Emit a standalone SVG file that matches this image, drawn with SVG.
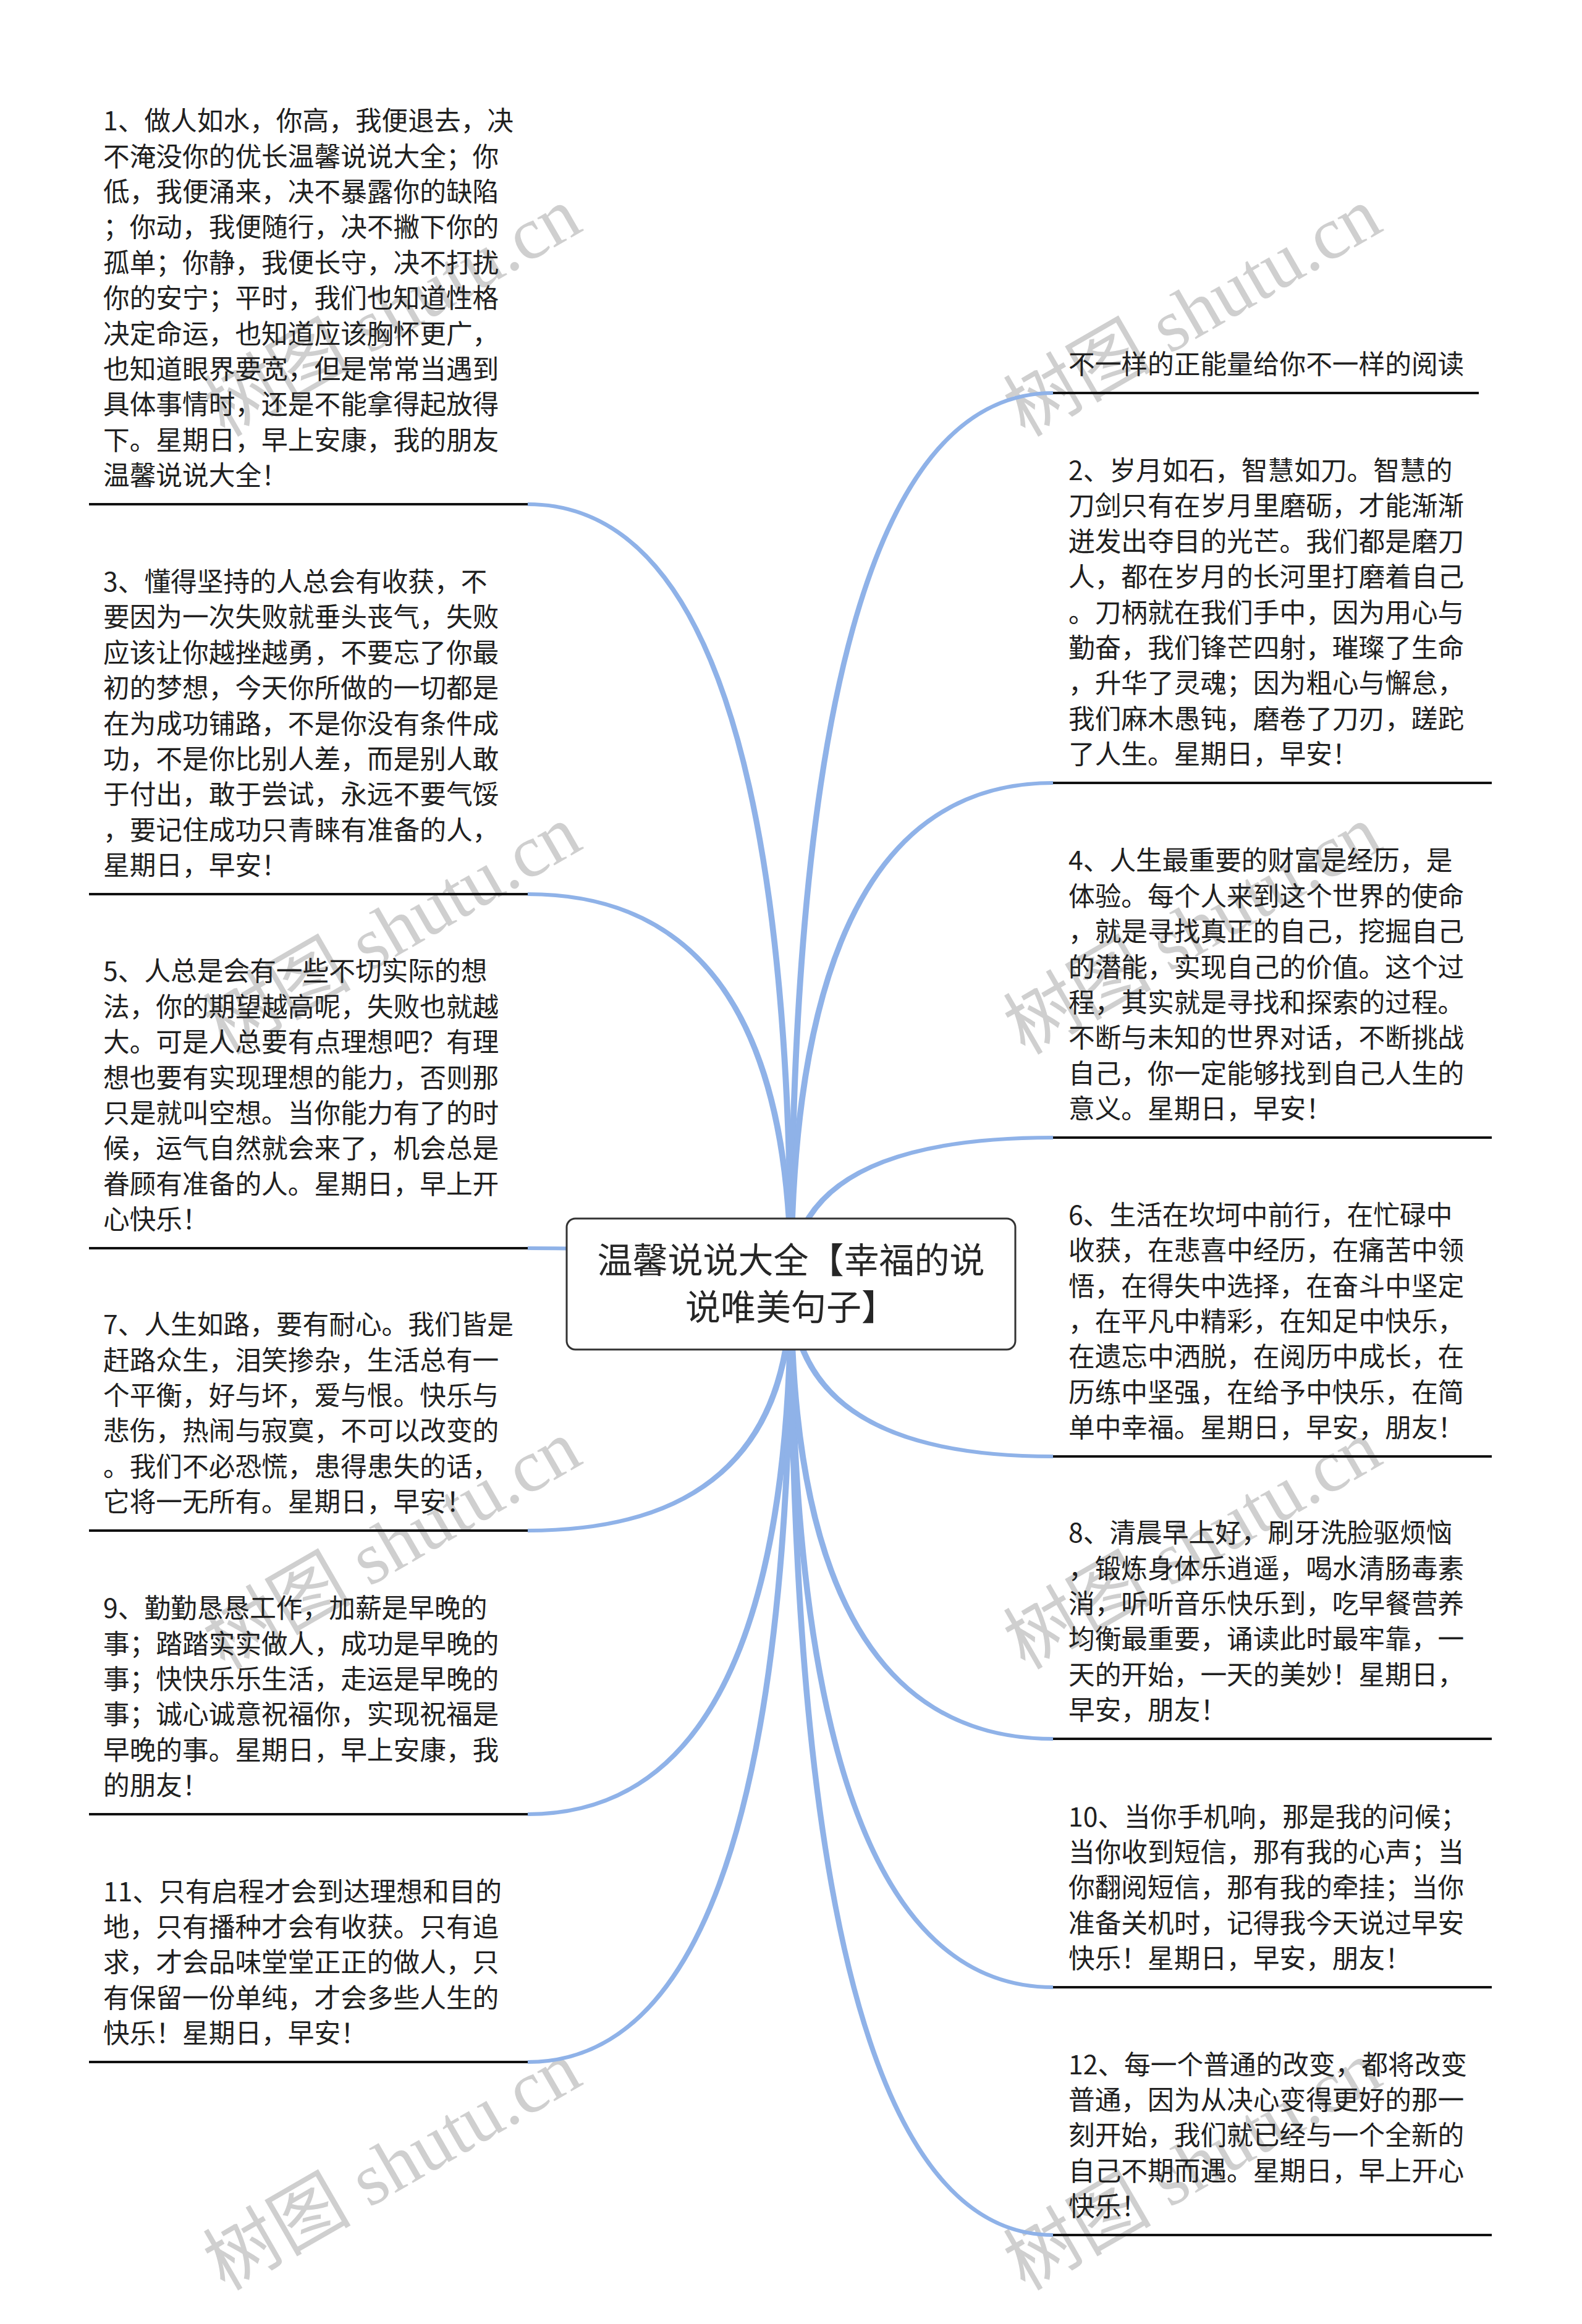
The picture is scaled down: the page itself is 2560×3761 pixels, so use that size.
<svg xmlns="http://www.w3.org/2000/svg" width="2560" height="3761" viewBox="0 0 2560 3761">
<style>
.bg{fill:#ffffff}
.wm{font-family:"Liberation Serif","Noto Sans CJK SC",serif;font-size:120px;fill:#cfcfcf}
.t{font-family:"Noto Sans CJK SC","Noto Sans",sans-serif;font-size:42.7px;fill:#202020}
.ul{stroke:#111111;stroke-width:4;fill:none}
.cn{fill:#8fb2e8;stroke:none}
.box{fill:#ffffff;stroke:#333333;stroke-width:3}
.ct{font-family:"Noto Sans CJK SC","Noto Sans",sans-serif;font-size:57px;fill:#262626;text-anchor:middle}
</style>
<rect class="bg" x="0" y="0" width="2560" height="3761"/>
<g id="watermarks">
<text class="wm" text-anchor="middle" transform="translate(655,540) rotate(-30)">树图 shutu.cn</text>
<text class="wm" text-anchor="middle" transform="translate(1950,540) rotate(-30)">树图 shutu.cn</text>
<text class="wm" text-anchor="middle" transform="translate(655,1540) rotate(-30)">树图 shutu.cn</text>
<text class="wm" text-anchor="middle" transform="translate(1950,1540) rotate(-30)">树图 shutu.cn</text>
<text class="wm" text-anchor="middle" transform="translate(655,2535) rotate(-30)">树图 shutu.cn</text>
<text class="wm" text-anchor="middle" transform="translate(1950,2535) rotate(-30)">树图 shutu.cn</text>
<text class="wm" text-anchor="middle" transform="translate(655,3540) rotate(-30)">树图 shutu.cn</text>
<text class="wm" text-anchor="middle" transform="translate(1950,3540) rotate(-30)">树图 shutu.cn</text>
</g>
<g id="connectors">
<path class="cn" d="M1285 2078 Q1285 813 854 813 L854 819 Q1275 819 1275 2078Z"/>
<path class="cn" d="M1285 2078 Q1285 1444 854 1444 L854 1450 Q1275 1450 1275 2078Z"/>
<path class="cn" d="M1285 2078 Q1285 2017 854 2017 L854 2023 Q1275 2023 1275 2078Z"/>
<path class="cn" d="M1285 2078 Q1285 2480 854 2480 L854 2474 Q1275 2474 1275 2078Z"/>
<path class="cn" d="M1285 2078 Q1285 2939 854 2939 L854 2933 Q1275 2933 1275 2078Z"/>
<path class="cn" d="M1285 2078 Q1285 3340 854 3340 L854 3334 Q1275 3334 1275 2078Z"/>
<path class="cn" d="M1275 2078 Q1275 633 1704 633 L1704 639 Q1285 639 1285 2078Z"/>
<path class="cn" d="M1275 2078 Q1275 1264 1704 1264 L1704 1270 Q1285 1270 1285 2078Z"/>
<path class="cn" d="M1275 2078 Q1275 1838 1704 1838 L1704 1844 Q1285 1844 1285 2078Z"/>
<path class="cn" d="M1275 2078 Q1275 2360 1704 2360 L1704 2354 Q1285 2354 1285 2078Z"/>
<path class="cn" d="M1275 2078 Q1275 2817 1704 2817 L1704 2811 Q1285 2811 1285 2078Z"/>
<path class="cn" d="M1275 2078 Q1275 3219 1704 3219 L1704 3213 Q1285 3213 1285 2078Z"/>
<path class="cn" d="M1275 2078 Q1275 3620 1704 3620 L1704 3614 Q1285 3614 1285 2078Z"/>
</g>
<g id="root">
<rect class="box" x="917" y="1972" width="726" height="212" rx="14"/>
<text class="ct"><tspan x="1280" y="2060">温馨说说大全【幸福的说</tspan><tspan x="1280" y="2136">说唯美句子】</tspan></text>
</g>
<g id="node1">
<text class="t"><tspan x="167" y="211.2">1、做人如水，你高，我便退去，决</tspan><tspan x="167" dy="57.4">不淹没你的优长温馨说说大全；你</tspan><tspan x="167" dy="57.4">低，我便涌来，决不暴露你的缺陷</tspan><tspan x="167" dy="57.4">；你动，我便随行，决不撇下你的</tspan><tspan x="167" dy="57.4">孤单；你静，我便长守，决不打扰</tspan><tspan x="167" dy="57.4">你的安宁；平时，我们也知道性格</tspan><tspan x="167" dy="57.4">决定命运，也知道应该胸怀更广，</tspan><tspan x="167" dy="57.4">也知道眼界要宽，但是常常当遇到</tspan><tspan x="167" dy="57.4">具体事情时，还是不能拿得起放得</tspan><tspan x="167" dy="57.4">下。星期日，早上安康，我的朋友</tspan><tspan x="167" dy="57.4">温馨说说大全！</tspan></text>
<line class="ul" x1="144" y1="816" x2="854" y2="816"/>
</g>
<g id="node3">
<text class="t"><tspan x="167" y="957">3、懂得坚持的人总会有收获，不</tspan><tspan x="167" dy="57.4">要因为一次失败就垂头丧气，失败</tspan><tspan x="167" dy="57.4">应该让你越挫越勇，不要忘了你最</tspan><tspan x="167" dy="57.4">初的梦想，今天你所做的一切都是</tspan><tspan x="167" dy="57.4">在为成功铺路，不是你没有条件成</tspan><tspan x="167" dy="57.4">功，不是你比别人差，而是别人敢</tspan><tspan x="167" dy="57.4">于付出，敢于尝试，永远不要气馁</tspan><tspan x="167" dy="57.4">，要记住成功只青睐有准备的人，</tspan><tspan x="167" dy="57.4">星期日，早安！</tspan></text>
<line class="ul" x1="144" y1="1447" x2="854" y2="1447"/>
</g>
<g id="node5">
<text class="t"><tspan x="167" y="1587.4">5、人总是会有一些不切实际的想</tspan><tspan x="167" dy="57.4">法，你的期望越高呢，失败也就越</tspan><tspan x="167" dy="57.4">大。可是人总要有点理想吧？有理</tspan><tspan x="167" dy="57.4">想也要有实现理想的能力，否则那</tspan><tspan x="167" dy="57.4">只是就叫空想。当你能力有了的时</tspan><tspan x="167" dy="57.4">候，运气自然就会来了，机会总是</tspan><tspan x="167" dy="57.4">眷顾有准备的人。星期日，早上开</tspan><tspan x="167" dy="57.4">心快乐！</tspan></text>
<line class="ul" x1="144" y1="2020" x2="854" y2="2020"/>
</g>
<g id="node7">
<text class="t"><tspan x="167" y="2159.2">7、人生如路，要有耐心。我们皆是</tspan><tspan x="167" dy="57.4">赶路众生，泪笑掺杂，生活总有一</tspan><tspan x="167" dy="57.4">个平衡，好与坏，爱与恨。快乐与</tspan><tspan x="167" dy="57.4">悲伤，热闹与寂寞，不可以改变的</tspan><tspan x="167" dy="57.4">。我们不必恐慌，患得患失的话，</tspan><tspan x="167" dy="57.4">它将一无所有。星期日，早安！</tspan></text>
<line class="ul" x1="144" y1="2477" x2="854" y2="2477"/>
</g>
<g id="node9">
<text class="t"><tspan x="167" y="2618.2">9、勤勤恳恳工作，加薪是早晚的</tspan><tspan x="167" dy="57.4">事；踏踏实实做人，成功是早晚的</tspan><tspan x="167" dy="57.4">事；快快乐乐生活，走运是早晚的</tspan><tspan x="167" dy="57.4">事；诚心诚意祝福你，实现祝福是</tspan><tspan x="167" dy="57.4">早晚的事。星期日，早上安康，我</tspan><tspan x="167" dy="57.4">的朋友！</tspan></text>
<line class="ul" x1="144" y1="2936" x2="854" y2="2936"/>
</g>
<g id="node11">
<text class="t"><tspan x="167" y="3076.6">11、只有启程才会到达理想和目的</tspan><tspan x="167" dy="57.4">地，只有播种才会有收获。只有追</tspan><tspan x="167" dy="57.4">求，才会品味堂堂正正的做人，只</tspan><tspan x="167" dy="57.4">有保留一份单纯，才会多些人生的</tspan><tspan x="167" dy="57.4">快乐！星期日，早安！</tspan></text>
<line class="ul" x1="144" y1="3337" x2="854" y2="3337"/>
</g>
<g id="node0">
<text class="t"><tspan x="1729" y="605.2">不一样的正能量给你不一样的阅读</tspan></text>
<line class="ul" x1="1704" y1="636" x2="2393" y2="636"/>
</g>
<g id="node2">
<text class="t"><tspan x="1729" y="777">2、岁月如石，智慧如刀。智慧的</tspan><tspan x="1729" dy="57.4">刀剑只有在岁月里磨砺，才能渐渐</tspan><tspan x="1729" dy="57.4">迸发出夺目的光芒。我们都是磨刀</tspan><tspan x="1729" dy="57.4">人，都在岁月的长河里打磨着自己</tspan><tspan x="1729" dy="57.4">。刀柄就在我们手中，因为用心与</tspan><tspan x="1729" dy="57.4">勤奋，我们锋芒四射，璀璨了生命</tspan><tspan x="1729" dy="57.4">，升华了灵魂；因为粗心与懈怠，</tspan><tspan x="1729" dy="57.4">我们麻木愚钝，磨卷了刀刃，蹉跎</tspan><tspan x="1729" dy="57.4">了人生。星期日，早安！</tspan></text>
<line class="ul" x1="1704" y1="1267" x2="2414" y2="1267"/>
</g>
<g id="node4">
<text class="t"><tspan x="1729" y="1408.4">4、人生最重要的财富是经历，是</tspan><tspan x="1729" dy="57.4">体验。每个人来到这个世界的使命</tspan><tspan x="1729" dy="57.4">，就是寻找真正的自己，挖掘自己</tspan><tspan x="1729" dy="57.4">的潜能，实现自己的价值。这个过</tspan><tspan x="1729" dy="57.4">程，其实就是寻找和探索的过程。</tspan><tspan x="1729" dy="57.4">不断与未知的世界对话，不断挑战</tspan><tspan x="1729" dy="57.4">自己，你一定能够找到自己人生的</tspan><tspan x="1729" dy="57.4">意义。星期日，早安！</tspan></text>
<line class="ul" x1="1704" y1="1841" x2="2414" y2="1841"/>
</g>
<g id="node6">
<text class="t"><tspan x="1729" y="1981.8">6、生活在坎坷中前行，在忙碌中</tspan><tspan x="1729" dy="57.4">收获，在悲喜中经历，在痛苦中领</tspan><tspan x="1729" dy="57.4">悟，在得失中选择，在奋斗中坚定</tspan><tspan x="1729" dy="57.4">，在平凡中精彩，在知足中快乐，</tspan><tspan x="1729" dy="57.4">在遗忘中洒脱，在阅历中成长，在</tspan><tspan x="1729" dy="57.4">历练中坚强，在给予中快乐，在简</tspan><tspan x="1729" dy="57.4">单中幸福。星期日，早安，朋友！</tspan></text>
<line class="ul" x1="1704" y1="2357" x2="2414" y2="2357"/>
</g>
<g id="node8">
<text class="t"><tspan x="1729" y="2496.2">8、清晨早上好，刷牙洗脸驱烦恼</tspan><tspan x="1729" dy="57.4">，锻炼身体乐逍遥，喝水清肠毒素</tspan><tspan x="1729" dy="57.4">消，听听音乐快乐到，吃早餐营养</tspan><tspan x="1729" dy="57.4">均衡最重要，诵读此时最牢靠，一</tspan><tspan x="1729" dy="57.4">天的开始，一天的美妙！星期日，</tspan><tspan x="1729" dy="57.4">早安，朋友！</tspan></text>
<line class="ul" x1="1704" y1="2814" x2="2414" y2="2814"/>
</g>
<g id="node10">
<text class="t"><tspan x="1729" y="2955.6">10、当你手机响，那是我的问候；</tspan><tspan x="1729" dy="57.4">当你收到短信，那有我的心声；当</tspan><tspan x="1729" dy="57.4">你翻阅短信，那有我的牵挂；当你</tspan><tspan x="1729" dy="57.4">准备关机时，记得我今天说过早安</tspan><tspan x="1729" dy="57.4">快乐！星期日，早安，朋友！</tspan></text>
<line class="ul" x1="1704" y1="3216" x2="2414" y2="3216"/>
</g>
<g id="node12">
<text class="t"><tspan x="1729" y="3356.6">12、每一个普通的改变，都将改变</tspan><tspan x="1729" dy="57.4">普通，因为从决心变得更好的那一</tspan><tspan x="1729" dy="57.4">刻开始，我们就已经与一个全新的</tspan><tspan x="1729" dy="57.4">自己不期而遇。星期日，早上开心</tspan><tspan x="1729" dy="57.4">快乐！</tspan></text>
<line class="ul" x1="1704" y1="3617" x2="2414" y2="3617"/>
</g>
</svg>
